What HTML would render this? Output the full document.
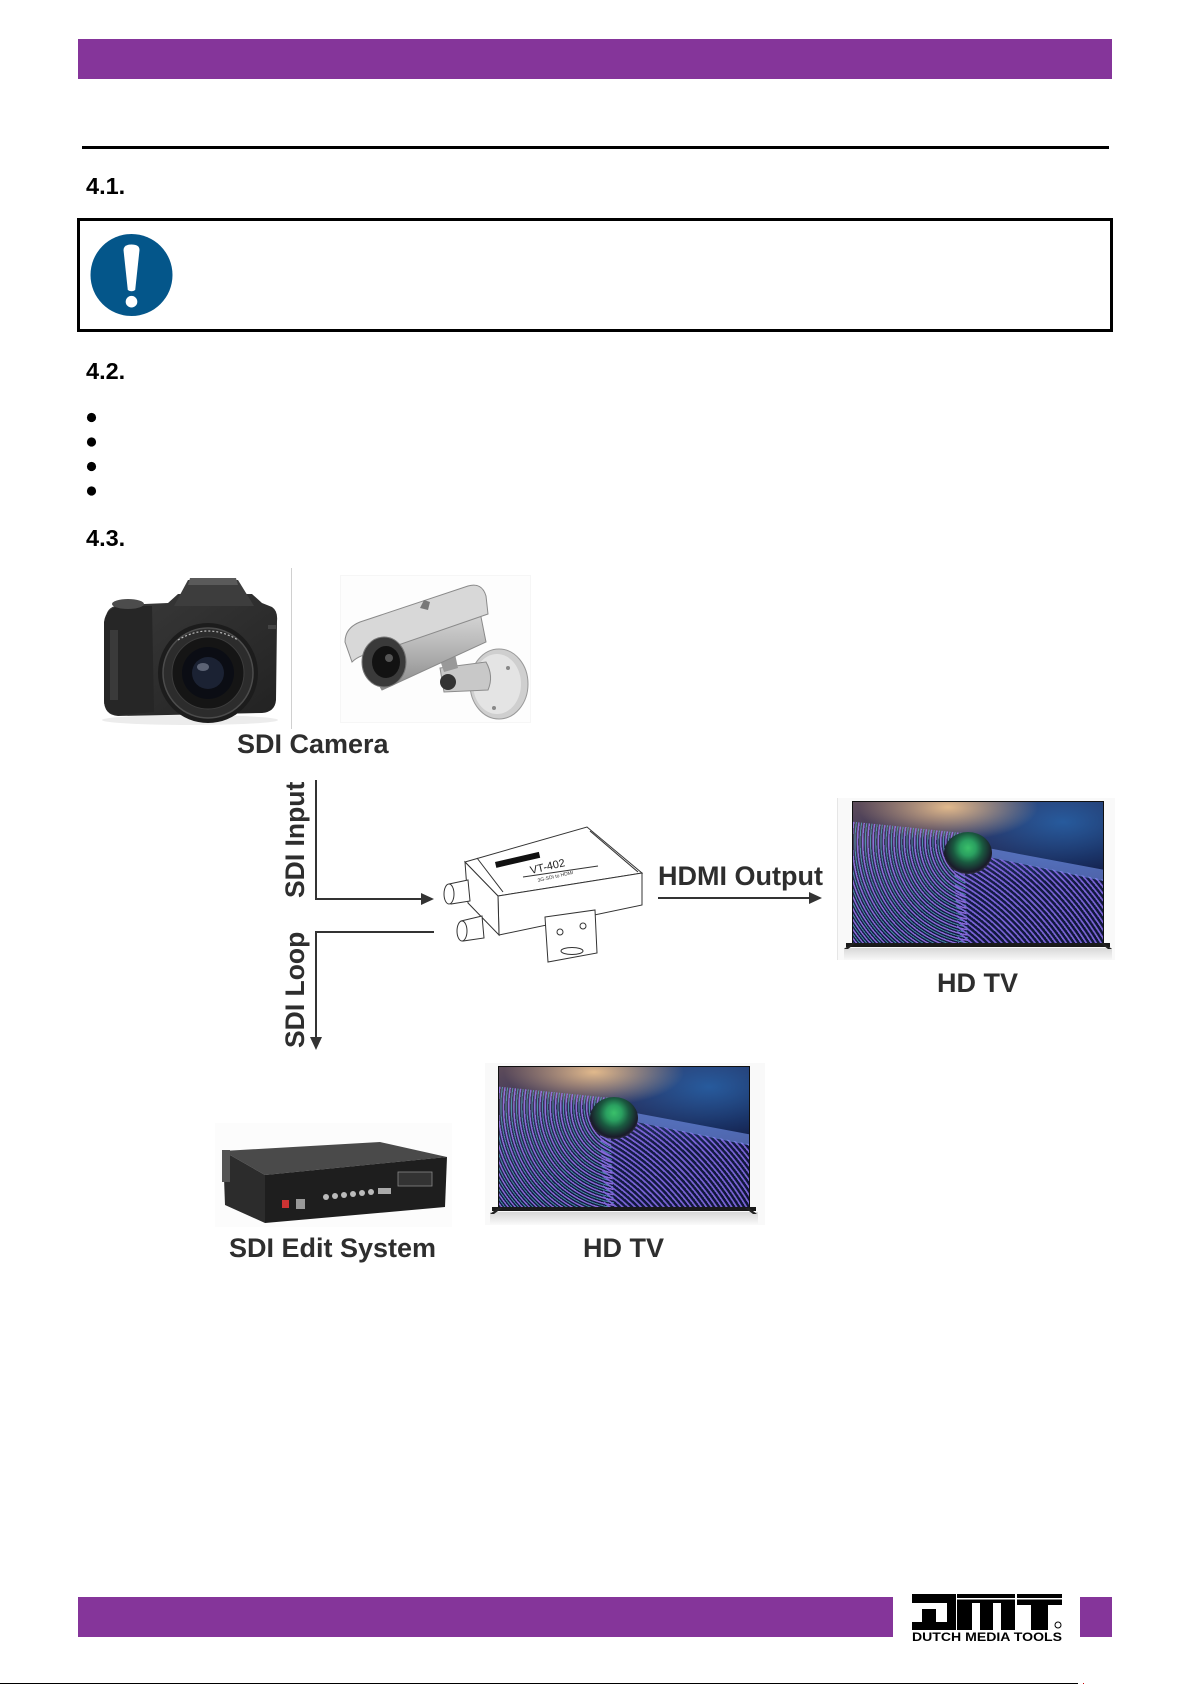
<!DOCTYPE html>
<html><head><meta charset="utf-8">
<style>
html,body{margin:0;padding:0;background:#fff;}
body{width:1192px;height:1685px;position:relative;overflow:hidden;font-family:"Liberation Sans",Arial,sans-serif;}
svg.main{position:absolute;left:0;top:0;}
.scr{position:absolute;overflow:hidden;background:#121a42;}
.scr div{position:absolute;left:0;top:0;right:0;bottom:0;}
</style></head><body>
<svg class="main" width="1192" height="1685" viewBox="0 0 1192 1685" xmlns="http://www.w3.org/2000/svg" font-family="Liberation Sans, Arial, sans-serif">
<defs>
  <linearGradient id="camgrad" x1="0" y1="0" x2="0" y2="1">
    <stop offset="0" stop-color="#e0e0e0"/><stop offset="0.5" stop-color="#b8b8b8"/><stop offset="1" stop-color="#8a8a8a"/>
  </linearGradient>
  <linearGradient id="tvshadow" x1="0" y1="0" x2="0" y2="1">
    <stop offset="0" stop-color="#d8d8d8"/><stop offset="1" stop-color="#f8f8f8"/>
  </linearGradient>
  <linearGradient id="bodygrad" x1="0" y1="0" x2="1" y2="1">
    <stop offset="0" stop-color="#3a3a3a"/><stop offset="1" stop-color="#222"/>
  </linearGradient>
</defs>

<!-- top bar -->
<rect x="78" y="39" width="1034" height="40" fill="#85359a"/>
<!-- rule -->
<rect x="82" y="146" width="1027" height="3" fill="#000"/>

<text x="86" y="194" font-size="23.5" font-weight="bold" fill="#000">4.1.</text>

<!-- notice box -->
<rect x="78.5" y="219.5" width="1033" height="111" fill="none" stroke="#000" stroke-width="3"/>
<circle cx="131.5" cy="275" r="41" fill="#04568a"/>
<path d="M123.5 250 Q123.5 244.5 131.5 244.5 Q139.5 244.5 139.5 250 L135.2 290 Q131.5 292.5 127.8 290 Z" fill="#fff"/>
<circle cx="131.5" cy="301.7" r="5.8" fill="#fff"/>

<text x="86" y="379" font-size="23.5" font-weight="bold" fill="#000">4.2.</text>
<circle cx="91.5" cy="417.5" r="4.6" fill="#000"/>
<circle cx="91.5" cy="442" r="4.6" fill="#000"/>
<circle cx="91.5" cy="466.5" r="4.6" fill="#000"/>
<circle cx="91.5" cy="491" r="4.6" fill="#000"/>

<text x="86" y="546" font-size="23.5" font-weight="bold" fill="#000">4.3.</text>

<!-- DSLR camera -->
<ellipse cx="190" cy="720" rx="88" ry="5" fill="#ececec"/>
<path d="M106 616 Q108 606 120 605 L168 603 L178 594 L252 594 L262 603 L272 607 Q278 611 277 621 L276 700 Q275 712 262 713 L118 716 Q104 715 104 700 Z" fill="url(#bodygrad)"/>
<path d="M104 622 Q106 607 122 606 L152 606 L154 712 L118 715 Q104 714 104 700 Z" fill="#262626"/>
<path d="M110 630 L118 630 L118 700 L110 700 Z" fill="#3a3a3a"/>
<path d="M174 606 L188 580 L238 580 L254 606 Z" fill="#3d3d3d"/>
<path d="M190 578 L236 578 L238 585 L188 585 Z" fill="#5a5a5a"/>
<ellipse cx="128" cy="604" rx="16" ry="5" fill="#4c4c4c"/>
<rect x="268" y="625" width="8" height="4" fill="#444"/>
<circle cx="208" cy="673" r="50" fill="#1c1c1c"/>
<circle cx="208" cy="673" r="45" fill="#2c2c2c" stroke="#4c4c4c" stroke-width="1.5"/>
<circle cx="208" cy="673" r="36" fill="#151515" stroke="#3c3c3c"/>
<circle cx="208" cy="673" r="26" fill="#0b0d14"/>
<circle cx="208" cy="673" r="16" fill="#1b2233"/>
<ellipse cx="203" cy="667" rx="6" ry="4" fill="#5c6374"/>
<path d="M178 640 Q208 622 238 640" fill="none" stroke="#bbb" stroke-width="1.2" stroke-dasharray="2 2"/>

<!-- divider -->
<line x1="291.5" y1="568" x2="291.5" y2="729" stroke="#d0d0d0" stroke-width="1"/>

<!-- security camera -->
<rect x="340.5" y="575.5" width="190" height="147" fill="#fdfdfd" stroke="#f6f6f6"/>
<ellipse cx="499" cy="684" rx="29" ry="35" fill="#cfcfcf" stroke="#999"/>
<ellipse cx="497" cy="684" rx="24" ry="30" fill="#e4e4e4"/>
<circle cx="482" cy="664" r="2" fill="#888"/><circle cx="508" cy="668" r="2" fill="#888"/><circle cx="494" cy="708" r="2" fill="#888"/>
<path d="M440 668 L486 662 Q494 676 488 690 L444 692 Z" fill="#c8c8c8" stroke="#8c8c8c"/>
<circle cx="448" cy="682" r="8" fill="#333"/>
<path d="M440 660 L455 654 L458 668 L444 672 Z" fill="#999"/>
<path d="M360 652 L478 602 L486 642 L382 690 Z" fill="url(#camgrad)" stroke="#8a8a8a"/>
<path d="M345 642 Q345 628 360 622 L468 586 Q482 582 486 596 L488 614 L378 652 Q360 654 352 662 Z" fill="#d8d8d8" stroke="#8a8a8a"/>
<path d="M420 608 L424 600 L430 602 L428 610 Z" fill="#777"/>
<ellipse cx="384" cy="662" rx="22" ry="25" fill="#3a3a3a" stroke="#777"/>
<ellipse cx="386" cy="662" rx="14" ry="16" fill="#121212"/>
<circle cx="389" cy="658" r="4" fill="#555"/>

<text x="237" y="753" font-size="27" font-weight="bold" fill="#2e2e2e">SDI Camera</text>

<!-- connectors -->
<path d="M316 780 V899 H424" fill="none" stroke="#333" stroke-width="2"/>
<polygon points="421,893 434,899 421,905" fill="#333"/>
<path d="M434 932 H316 V1038" fill="none" stroke="#333" stroke-width="2"/>
<polygon points="310,1037 316,1050 322,1037" fill="#333"/>
<path d="M658 898 H811" fill="none" stroke="#333" stroke-width="2"/>
<polygon points="809,892 822,898 809,904" fill="#333"/>

<text x="304" y="898" font-size="26.5" font-weight="bold" fill="#2e2e2e" transform="rotate(-90 304 898)">SDI Input</text>
<text x="304" y="1048" font-size="26.5" font-weight="bold" fill="#2e2e2e" transform="rotate(-90 304 1048)">SDI Loop</text>
<text x="658" y="885" font-size="27" font-weight="bold" fill="#2e2e2e">HDMI Output</text>

<!-- converter device -->
<g fill="#fff" stroke="#333" stroke-width="1">
  <path d="M465 862 L587 827 L642 873 L498 896 Z"/>
  <path d="M498 896 L642 873 L642 905 L499 935 Z"/>
  <path d="M465 862 L498 896 L499 935 L468 903 Z"/>
  <path d="M477 858 L503 892 M590 831 L638 872"/>
  <path d="M545 917 L595 910 L597 953 L548 962 Z"/>
  <circle cx="560" cy="932" r="3"/><circle cx="583" cy="926" r="3"/>
  <ellipse cx="572" cy="951" rx="11" ry="3.5"/>
  <path d="M449 884 L468 880 L470 901 L451 904 Z"/>
  <ellipse cx="449" cy="894" rx="5" ry="10"/>
  <path d="M461 921 L482 916 L484 938 L463 941 Z"/>
  <ellipse cx="462" cy="931" rx="5" ry="10"/>
  <path d="M523 877 L598 866"/>
</g>
<rect x="495" y="862" width="45" height="6" fill="#111" transform="rotate(-13 495 862)"/>
<text x="531" y="874" font-size="11" fill="#222" transform="rotate(-13 531 874)">VT-402</text>
<text x="538" y="882" font-size="5" fill="#333" transform="rotate(-13 538 882)">3G-SDI to HDMI</text>

<!-- TV1 frame -->
<rect x="837" y="798" width="278" height="162" fill="#f9f9f9"/>
<line x1="837.5" y1="798" x2="837.5" y2="960" stroke="#e6e6e6"/>
<rect x="844" y="948" width="268" height="12" fill="url(#tvshadow)"/>
<rect x="852" y="801" width="252" height="143" fill="#111"/>
<rect x="846" y="943" width="264" height="4" fill="#1a1a1a"/>
<path d="M844 949 L852 943 L856 943 L848 949 Z M1112 949 L1104 943 L1100 943 L1108 949 Z" fill="#222"/>
<text x="937" y="992" font-size="27" font-weight="bold" fill="#2e2e2e">HD TV</text>

<!-- TV2 frame -->
<rect x="485" y="1063" width="280" height="162" fill="#f9f9f9"/>
<rect x="490" y="1212" width="268" height="12" fill="url(#tvshadow)"/>
<rect x="498" y="1066" width="252" height="142" fill="#111"/>
<rect x="492" y="1207" width="264" height="4" fill="#1a1a1a"/>
<path d="M490 1214 L498 1208 L502 1208 L494 1214 Z M757 1214 L749 1208 L745 1208 L753 1214 Z" fill="#222"/>

<!-- Edit system -->
<rect x="215" y="1123" width="237" height="104" fill="#fcfcfc"/>
<path d="M223 1151 L380 1142 L447 1157 L265 1175 Z" fill="#4a4a4a"/>
<path d="M223 1151 L265 1175 L265 1223 L225 1205 Z" fill="#2c2c2c"/>
<path d="M265 1175 L447 1157 L445 1207 L265 1223 Z" fill="#1e1e1e"/>
<rect x="222" y="1150" width="8" height="32" fill="#555"/>
<g fill="#bbb">
  <circle cx="326" cy="1197" r="3"/><circle cx="335" cy="1196" r="3"/><circle cx="344" cy="1195" r="3"/>
  <circle cx="353" cy="1194" r="3"/><circle cx="362" cy="1193" r="3"/><circle cx="371" cy="1192" r="3"/>
</g>
<rect x="378" y="1188" width="13" height="6" fill="#aaa"/>
<rect x="398" y="1172" width="34" height="14" fill="#333" stroke="#888" stroke-width="0.8"/>
<rect x="282" y="1200" width="7" height="8" fill="#c33"/>
<rect x="296" y="1199" width="9" height="10" fill="#999"/>
<text x="229" y="1257" font-size="27" font-weight="bold" fill="#2e2e2e">SDI Edit System</text>
<text x="583" y="1257" font-size="27" font-weight="bold" fill="#2e2e2e">HD TV</text>

<!-- bottom bar -->
<rect x="78" y="1597" width="815" height="40" fill="#85359a"/>
<rect x="1080" y="1597" width="32" height="40" fill="#85359a"/>
<!-- DMT logo -->
<g fill="#000">
  <rect x="912" y="1594" width="44" height="36"/>
  <rect x="957" y="1594" width="58" height="36"/>
  <rect x="1017" y="1594" width="45" height="11"/>
  <rect x="1031" y="1594" width="17" height="36"/>
</g>
<g fill="#fff">
  <rect x="912" y="1603" width="24" height="6"/>
  <rect x="936" y="1603" width="11" height="19"/>
  <rect x="912" y="1609" width="10" height="13"/>
  <rect x="957" y="1598" width="58" height="1.5"/>
  <rect x="972" y="1603" width="8" height="27"/>
  <rect x="993" y="1603" width="8" height="27"/>
  <rect x="1017" y="1598" width="45" height="1.5"/>
</g>
<circle cx="1058" cy="1625" r="3" fill="none" stroke="#000" stroke-width="1"/>
<text x="912" y="1641" font-size="11.5" font-weight="bold" fill="#000" textLength="150" lengthAdjust="spacingAndGlyphs">DUTCH MEDIA TOOLS</text>

<!-- bottom line -->
<rect x="0" y="1683" width="1078" height="1" fill="#000"/>
<rect x="1083" y="1683" width="1" height="1" fill="#c00"/>
</svg>

<div class="scr" style="left:853px;top:802px;width:250px;height:141px">
  <div style="background:linear-gradient(160deg,#5e4c5a 0%,#2c2c58 30%,#131b46 60%,#0f1638 100%)"></div>
  <div style="background:radial-gradient(ellipse 130px 60px at 210px 20px,rgba(40,100,170,.85),rgba(40,100,170,0))"></div>
  <div style="background:radial-gradient(ellipse 90px 34px at 95px 5px,rgba(225,185,140,1),rgba(225,185,140,0))"></div>
  <div style="clip-path:polygon(0 14%,44% 22%,46% 100%,0 100%);background:repeating-radial-gradient(circle at 130px 40px,rgba(150,115,230,.9) 0px,rgba(150,115,230,.9) 1.2px,transparent 1.6px,transparent 2.8px,rgba(90,175,195,.75) 2.8px,rgba(90,175,195,.75) 3.6px,transparent 4px,transparent 5.2px)"></div>
  <div style="clip-path:polygon(40% 34%,100% 55%,100% 100%,42% 100%);background:repeating-radial-gradient(circle at -20px 300px,rgba(130,105,225,.9) 0px,rgba(130,105,225,.9) 1.5px,transparent 2px,transparent 4.2px)"></div>
  <div style="clip-path:polygon(46% 30%,100% 48%,100% 56%,46% 36%);background:rgba(120,150,240,.6)"></div>
  <div style="left:91px;top:30px;width:48px;height:42px;right:auto;bottom:auto;border-radius:50%;background:radial-gradient(circle at 50% 38%,#3ac06a 0,#2aa060 22%,#1a5a40 42%,#1a1a2a 68%,#8a9aa8 100%)"></div>
</div>

<div class="scr" style="left:499px;top:1067px;width:250px;height:140px">
  <div style="background:linear-gradient(160deg,#5e4c5a 0%,#2c2c58 30%,#131b46 60%,#0f1638 100%)"></div>
  <div style="background:radial-gradient(ellipse 130px 60px at 210px 20px,rgba(40,100,170,.85),rgba(40,100,170,0))"></div>
  <div style="background:radial-gradient(ellipse 90px 34px at 95px 5px,rgba(225,185,140,1),rgba(225,185,140,0))"></div>
  <div style="clip-path:polygon(0 14%,44% 22%,46% 100%,0 100%);background:repeating-radial-gradient(circle at 130px 40px,rgba(150,115,230,.9) 0px,rgba(150,115,230,.9) 1.2px,transparent 1.6px,transparent 2.8px,rgba(90,175,195,.75) 2.8px,rgba(90,175,195,.75) 3.6px,transparent 4px,transparent 5.2px)"></div>
  <div style="clip-path:polygon(40% 34%,100% 55%,100% 100%,42% 100%);background:repeating-radial-gradient(circle at -20px 300px,rgba(130,105,225,.9) 0px,rgba(130,105,225,.9) 1.5px,transparent 2px,transparent 4.2px)"></div>
  <div style="clip-path:polygon(46% 30%,100% 48%,100% 56%,46% 36%);background:rgba(120,150,240,.6)"></div>
  <div style="left:91px;top:30px;width:48px;height:42px;right:auto;bottom:auto;border-radius:50%;background:radial-gradient(circle at 50% 38%,#3ac06a 0,#2aa060 22%,#1a5a40 42%,#1a1a2a 68%,#8a9aa8 100%)"></div>
</div>
</body></html>
